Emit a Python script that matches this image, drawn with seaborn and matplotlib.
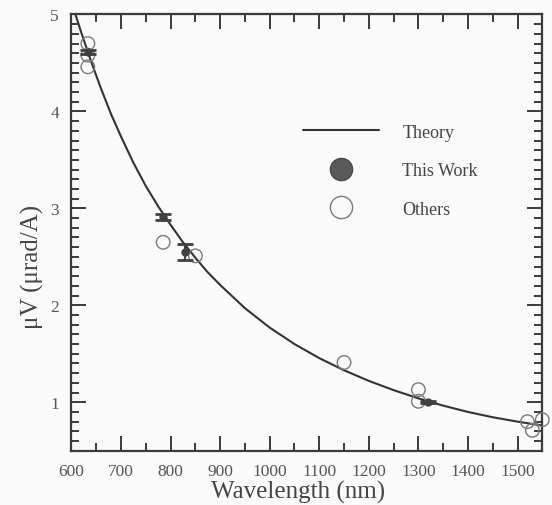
import matplotlib
matplotlib.use("Agg")
import matplotlib.pyplot as plt
from matplotlib.lines import Line2D
from matplotlib.ticker import MultipleLocator
import seaborn as sns
import pandas as pd

# Theory curve, sampled along wavelength (nm) -> Verdet-type response (urad/A)
theory_wl = [608, 620, 640, 660, 680, 700, 725, 750, 775, 800, 825, 850, 875,
             900, 950, 1000, 1050, 1100, 1150, 1200, 1250, 1300, 1350, 1400,
             1450, 1500, 1550]
theory_v = [5.00, 4.81, 4.51, 4.23, 3.97, 3.74, 3.47, 3.23, 3.02, 2.83, 2.65,
            2.49, 2.34, 2.21, 1.97, 1.77, 1.60, 1.455, 1.33, 1.22, 1.125, 1.04,
            0.965, 0.90, 0.845, 0.80, 0.76]

# This work: measured points with error bars
work_wl = [633, 785, 830, 1320]
work_v = [4.61, 2.91, 2.55, 1.00]
work_err = [0.02, 0.03, 0.085, 0.01]

# Other published values
others_wl = [633, 633, 633, 785, 850, 1150, 1300, 1300, 1520, 1530, 1550]
others_v = [4.70, 4.58, 4.46, 2.65, 2.51, 1.41, 1.13, 1.01, 0.80, 0.71, 0.82]

x_ticks = [600, 700, 800, 900, 1000, 1100, 1200, 1300, 1400, 1500]
y_ticks = [1, 2, 3, 4, 5]

sns.set_theme(style="ticks")
plt.rcParams["font.family"] = ["Liberation Serif", "DejaVu Serif"]

ink = "#3a3a3a"
bg = "#fafafa"

fig = plt.figure(figsize=(5.52, 5.06), dpi=100, facecolor=bg)
ax = fig.add_axes([0.1295, 0.1073, 0.8529, 0.8621], facecolor=bg)

theory = pd.DataFrame({"wl": theory_wl, "v": theory_v})
others = pd.DataFrame({"wl": others_wl, "v": others_v})
work = pd.DataFrame({"wl": work_wl, "v": work_v, "err": work_err})

sns.lineplot(data=theory, x="wl", y="v", ax=ax, color="#333333", lw=1.5,
             zorder=3)
sns.scatterplot(data=others, x="wl", y="v", ax=ax, marker="o", s=95,
                facecolor="none", edgecolor="#7a7a7a", linewidth=1.0,
                zorder=4, clip_on=False)
ax.errorbar(work["wl"], work["v"], yerr=work["err"], fmt="o", ms=5,
            color="#404040", ecolor="#404040", elinewidth=1.5, capsize=5.8,
            capthick=2.0, zorder=5)

ax.set_xlim(600, 1550)
ax.set_ylim(0.5, 5)
ax.set_xticks(x_ticks)
ax.set_yticks(y_ticks)
ax.xaxis.set_minor_locator(MultipleLocator(50))
ax.yaxis.set_minor_locator(MultipleLocator(0.1))
ax.tick_params(which="both", direction="in", top=True, right=True,
               color=ink, width=1.4)
ax.tick_params(which="major", length=10.8, labelsize=12.5, labelcolor="#555555")
ax.tick_params(which="minor", length=5.8)
ax.tick_params(axis="x", which="major", pad=9)
ax.tick_params(axis="y", which="major", pad=9)
for sp in ax.spines.values():
    sp.set_color(ink)
    sp.set_linewidth(1.6)

ax.set_xlabel("Wavelength (nm)", fontsize=18, color="#444444")
ax.set_ylabel("\u03bcV (\u03bcrad/A)", fontsize=18, color="#444444")
ax.xaxis.set_label_coords(0.482, -0.068)
ax.yaxis.set_label_coords(-0.058, 0.423)

handles = [
    Line2D([], [], color="#333333", lw=1.5),
    Line2D([], [], ls="none", marker="o", ms=16, mfc="#5a5a5a",
           mec="#4a4a4a"),
    Line2D([], [], ls="none", marker="o", ms=16, mfc="none", mec="#7a7a7a",
           mew=1.0),
]
leg = ax.legend(handles, ["Theory", "This Work", "Others"], loc="upper left",
                bbox_to_anchor=(0.492, 0.75), frameon=False, fontsize=13,
                handlelength=4.2, handletextpad=1.3, labelspacing=1.19,
                borderpad=0, borderaxespad=0)
for t in leg.get_texts():
    t.set_color("#444444")

fig.savefig("out.png", dpi=100, facecolor=bg)
